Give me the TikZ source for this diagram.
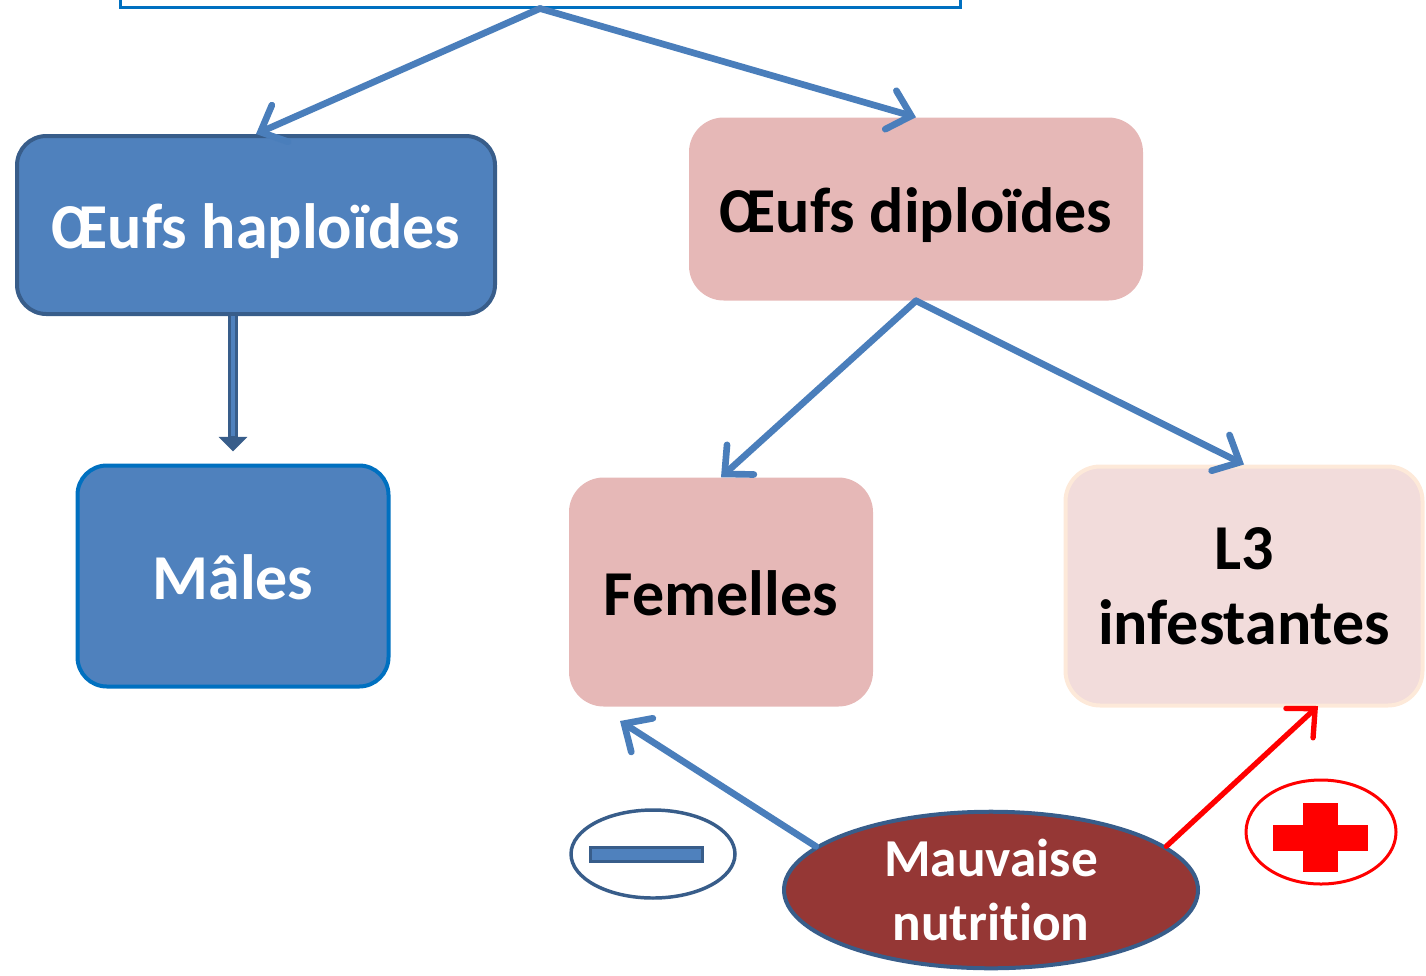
\documentclass[tikz,border=0pt]{standalone}
\usepackage{fontspec}
\setmainfont{Carlito}[Ligatures=NoCommon]
\usetikzlibrary{shapes, arrows.meta}
\definecolor{boxblue}{HTML}{4F81BD}
\definecolor{edgeblue}{HTML}{385D8A}
\definecolor{lineblue}{HTML}{4A7EBB}
\definecolor{brightblue}{HTML}{0070C0}
\definecolor{rosefill}{HTML}{E6B8B7}
\definecolor{palerose}{HTML}{F2DCDB}
\definecolor{peach}{HTML}{FDE9D9}
\definecolor{wine}{HTML}{953735}
\def\pxu{0.75pt}

\begin{document}
\begin{tikzpicture}[x=0.75pt, y=-0.75pt]
    \tikzstyle{bigtext} = [font=\fontsize{48}{56}\selectfont\bfseries, align=center]
    \tikzstyle{bluebox} = [rectangle, bigtext, text height=45pt, text depth=10pt, rounded corners=22pt, fill=boxblue, text=white, line width=3pt]
    \tikzstyle{rosebox} = [rectangle, bigtext, text height=45pt, text depth=10pt, rounded corners=26pt, fill=rosefill, text=black]
    \tikzstyle{palebox} = [rectangle, bigtext, rounded corners=26pt, fill=palerose, draw=peach, line width=3pt, text=black]
    \tikzstyle{cause} = [ellipse, fill=wine, draw=edgeblue, line width=3pt, text=white, align=center, font=\fontsize{40}{48}\selectfont\bfseries]
    \tikzstyle{sign} = [ellipse, fill=white, minimum width=160*\pxu]
    \tikzstyle{arrow} = [draw=lineblue, line width=5pt, line cap=round, -{Straight Barb[length=16pt, width=30pt, line cap=round]}]
    \tikzstyle{fatarrow} = [draw=edgeblue, line width=8pt, -{Triangle[length=11pt, width=21pt]}]
    \tikzstyle{fatcore} = [draw=boxblue, line width=2.5pt, shorten >=12pt]

    \useasboundingbox (0,0) rectangle (1426,975);

    \node (source) [rectangle, draw=brightblue, fill=white, line width=2.25pt, minimum width=840*\pxu, minimum height=54*\pxu] at (540,-20) {};
    \node (haplo) [bluebox, draw=edgeblue, minimum width=478*\pxu, minimum height=178*\pxu] at (256,225) {Œufs haploïdes};
    \node (males) [bluebox, draw=brightblue, minimum width=311*\pxu, minimum height=221*\pxu] at (233,576) {Mâles};
    \node (diplo) [rosebox, minimum width=454*\pxu, minimum height=183*\pxu] at (916,209) {Œufs diploïdes};
    \node (femelles) [rosebox, minimum width=304*\pxu, minimum height=229*\pxu] at (721,592) {Femelles};
    \node (larves) [palebox, minimum width=357*\pxu, minimum height=239*\pxu] at (1244,586) {L3\\infestantes};
    \node (nutrition) [cause, minimum width=414*\pxu, minimum height=156*\pxu] at (991,890) {Mauvaise\\nutrition};

    % Signs
    \node (moins) [sign, draw=edgeblue, line width=2.6pt, minimum width=164*\pxu, minimum height=88*\pxu] at (653,854) {};
    \node (moinsbar) [rectangle, fill=boxblue, draw=edgeblue, line width=2.25pt, minimum width=112*\pxu, minimum height=14*\pxu, inner sep=0pt] at (646,854) {};
    \node (plus) [sign, draw=red, line width=2.25pt, minimum width=150*\pxu, minimum height=104*\pxu] at (1321,832) {};
    \fill [red] (1303,803) rectangle (1338,872);
    \fill [red] (1273,825) rectangle (1368,851);

    \coordinate (femtip) at (620,721);
    \coordinate (larvtip) at (1318,706);

    % Arrows
    \draw [arrow] (source.south) -- (haplo.north);
    \draw [arrow] (source.south) -- (diplo.north);
    \draw [fatarrow] (haplo.south -| males.north) -- ([yshift=9pt]males.north);
    \draw [fatcore] (haplo.south -| males.north) -- ([yshift=9pt]males.north);
    \draw [arrow] (diplo.south) -- (femelles.north);
    \draw [arrow] (diplo.south) -- (larves.north);
    \draw [arrow] (nutrition.166) -- (femtip);
    \draw [arrow, draw=red, line width=4pt] (nutrition.14) -- (larvtip);
\end{tikzpicture}
\end{document}
